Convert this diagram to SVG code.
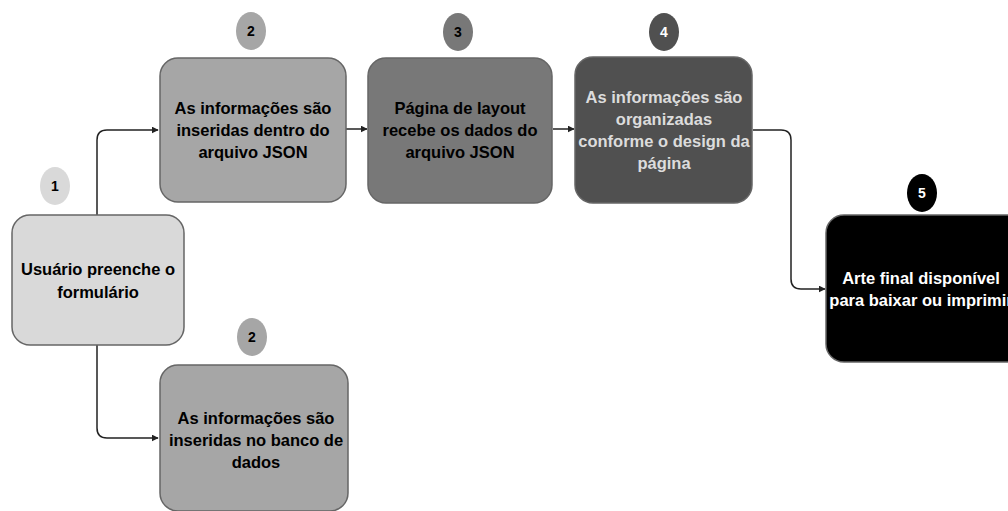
<svg xmlns="http://www.w3.org/2000/svg" width="1008" height="511" viewBox="0 0 1008 511">
<defs>
<marker id="arr" viewBox="0 0 10 10" refX="9" refY="5" markerWidth="7" markerHeight="7" markerUnits="userSpaceOnUse" orient="auto">
<path d="M0,0 L10,5 L0,10 z" fill="#222"/>
</marker>
</defs>
<style>
.box{stroke:#666;stroke-width:1.5}
.t{font-family:"Liberation Sans",Arial,sans-serif;font-weight:bold;font-size:16.5px;text-anchor:middle}
.n{font-family:"Liberation Sans",Arial,sans-serif;font-weight:bold;font-size:14px;text-anchor:middle}
.c{fill:none;stroke:#222;stroke-width:1.5}
</style>
<rect width="1008" height="511" fill="#fff"/>
<g id="connectors">
<path class="c" d="M97,215 V140 Q97,130 107,130 H158" marker-end="url(#arr)"/>
<path class="c" d="M97,345 V428 Q97,438 107,438 H158" marker-end="url(#arr)"/>
<path class="c" d="M346,129 H367" marker-end="url(#arr)"/>
<path class="c" d="M553,129 H574" marker-end="url(#arr)"/>
<path class="c" d="M753,130 H781 Q791,130 791,140 V279 Q791,289 801,289 H825" marker-end="url(#arr)"/>
</g>
<g id="node1">
<ellipse cx="55" cy="186" rx="15" ry="19" fill="#d9d9d9"/>
<text class="n" x="55" y="191" fill="#000">1</text>
<rect class="box" x="12" y="215" width="172" height="130" rx="18" fill="#d9d9d9"/>
<text class="t" x="98" y="275" fill="#000">Usuário preenche o</text>
<text class="t" x="98" y="298" fill="#000">formulário</text>
</g>
<g id="node2a">
<ellipse cx="251" cy="31" rx="15" ry="19" fill="#a6a6a6"/>
<text class="n" x="251" y="36" fill="#000">2</text>
<rect class="box" x="160" y="58" width="186" height="144" rx="18" fill="#a6a6a6"/>
<text class="t" x="253" y="114" fill="#000">As informações são</text>
<text class="t" x="253" y="136" fill="#000">inseridas dentro do</text>
<text class="t" x="253" y="158" fill="#000">arquivo JSON</text>
</g>
<g id="node2b">
<ellipse cx="252" cy="337" rx="15" ry="19" fill="#a6a6a6"/>
<text class="n" x="252" y="342" fill="#000">2</text>
<rect class="box" x="160" y="365" width="188" height="146" rx="18" fill="#a6a6a6"/>
<text class="t" x="256" y="424" fill="#000">As informações são</text>
<text class="t" x="256" y="446" fill="#000">inseridas no banco de</text>
<text class="t" x="256" y="468" fill="#000">dados</text>
</g>
<g id="node3">
<ellipse cx="458" cy="32" rx="15" ry="19" fill="#787878"/>
<text class="n" x="458" y="37" fill="#000">3</text>
<rect class="box" x="368" y="58" width="184" height="145" rx="18" fill="#787878"/>
<text class="t" x="460" y="114" fill="#000">Página de layout</text>
<text class="t" x="460" y="136" fill="#000">recebe os dados do</text>
<text class="t" x="460" y="158" fill="#000">arquivo JSON</text>
</g>
<g id="node4">
<ellipse cx="664" cy="32" rx="15" ry="19" fill="#505050"/>
<text class="n" x="664" y="37" fill="#fff">4</text>
<rect class="box" x="575" y="57" width="177" height="146" rx="18" fill="#505050"/>
<text class="t" x="664" y="103" fill="#dcdcdc">As informações são</text>
<text class="t" x="664" y="125" fill="#dcdcdc">organizadas</text>
<text class="t" x="664" y="147" fill="#dcdcdc">conforme o design da</text>
<text class="t" x="664" y="169" fill="#dcdcdc">página</text>
</g>
<g id="node5">
<ellipse cx="922" cy="193" rx="15" ry="19" fill="#000"/>
<text class="n" x="922" y="198" fill="#fff">5</text>
<rect class="box" x="826" y="215" width="200" height="147" rx="18" fill="#000"/>
<text class="t" x="921" y="284" fill="#fff">Arte final disponível</text>
<text class="t" x="921" y="306" fill="#fff">para baixar ou imprimir</text>
</g>
</svg>
